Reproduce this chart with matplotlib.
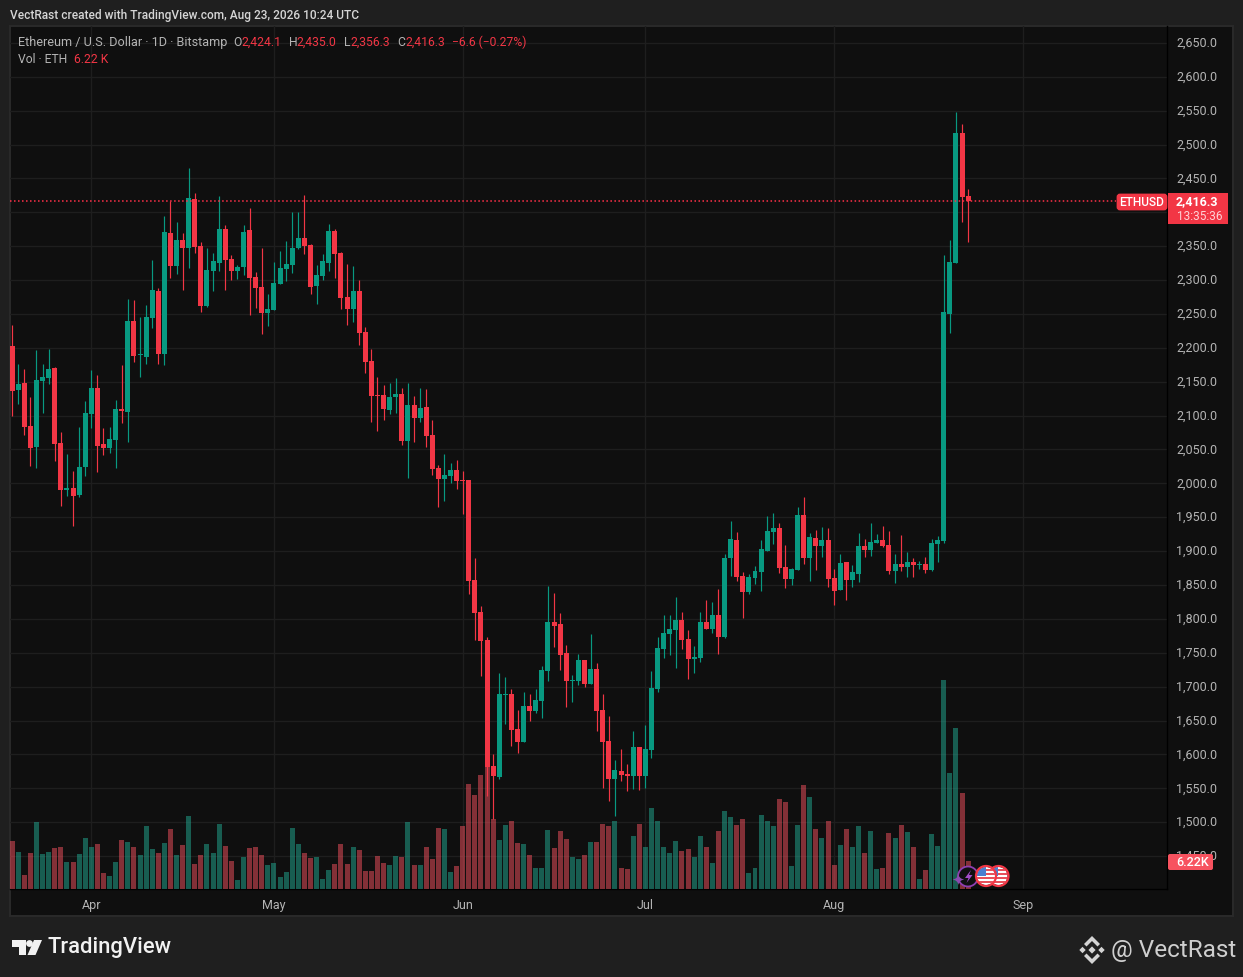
#!/usr/bin/env python
# coding: utf-8

import pandas as pd
import matplotlib
matplotlib.use('Agg')
import matplotlib.pyplot as plt
import matplotlib.dates as mdates
from matplotlib.patches import Circle, Polygon, Rectangle, FancyBboxPatch
from matplotlib.ticker import FuncFormatter
from matplotlib.transforms import ScaledTranslation

plt.rcParams['font.family'] = ['Roboto', 'DejaVu Sans']

START_DATE = '2026-03-19'

opens = [
    2203.4, 2137.8, 2147.6, 2084.4, 2054.0, 2150.5, 2154.9, 2169.6, 2059.4, 1990.3, 1993.2, 1982.9, 2024.0,
    2102.0, 2140.2, 2057.9, 2052.0, 2063.8, 2109.4, 2104.9, 2240.2, 2189.0, 2186.7, 2244.6, 2284.3, 2190.3,
    2369.5, 2321.0, 2359.3, 2347.5, 2419.5, 2350.4, 2262.2, 2313.7, 2325.4, 2375.4, 2331.3, 2313.7, 2319.3,
    2373.9, 2304.6, 2289.8, 2251.4, 2255.8, 2294.2, 2316.4, 2322.3, 2347.4, 2362.1, 2351.8, 2291.3, 2306.0,
    2325.2, 2372.4, 2340.0, 2275.0, 2257.3, 2283.9, 2223.4, 2180.6, 2130.4, 2130.4, 2108.2, 2127.4, 2131.9,
    2062.5, 2115.6, 2096.4, 2112.7, 2071.3, 2022.6, 2006.4, 2010.8, 2019.7, 2004.9, 2004.9, 1857.4, 1810.2,
    1768.9, 1583.0, 1566.7, 1687.7, 1689.2, 1637.5, 1618.4, 1671.5, 1664.1, 1678.9, 1723.1, 1795.4, 1792.5,
    1749.7, 1708.4, 1708.4, 1739.3, 1703.9, 1726.1, 1665.6, 1619.9, 1563.8, 1575.6, 1571.1, 1568.2, 1611.0,
    1568.2, 1606.6, 1696.6, 1755.7, 1777.9, 1783.8, 1798.5, 1770.5, 1741.0, 1742.5, 1795.6, 1785.2, 1805.9,
    1773.4, 1890.0, 1916.6, 1863.4, 1839.8, 1860.5, 1869.3, 1900.3, 1928.4, 1934.3, 1876.7, 1859.0, 1872.3,
    1953.4, 1890.0, 1919.5, 1907.7, 1916.6, 1860.5, 1842.8, 1884.1, 1857.5, 1866.4, 1907.7, 1901.8, 1912.1,
    1916.6, 1909.2, 1870.8, 1881.1, 1876.7, 1884.1, 1879.7, 1881.1, 1872.3, 1910.7, 1915.0, 2250.0, 2325.0,
    2516.7, 2424.1,
]
highs = [
    2234.3, 2176.5, 2168.2, 2127.0, 2196.1, 2175.5, 2199.0, 2171.0, 2075.5, 2043.2, 2018.2, 2082.9, 2121.1,
    2166.7, 2159.3, 2081.4, 2082.9, 2122.6, 2174.0, 2272.5, 2271.0, 2246.1, 2263.7, 2329.9, 2288.7, 2394.5,
    2416.6, 2385.7, 2369.5, 2465.1, 2428.3, 2356.3, 2347.5, 2340.1, 2423.9, 2381.3, 2337.2, 2322.5, 2381.3,
    2406.4, 2311.9, 2347.4, 2279.5, 2326.7, 2342.9, 2357.7, 2400.5, 2400.5, 2425.6, 2353.3, 2322.3, 2338.5,
    2382.8, 2375.4, 2341.5, 2323.7, 2320.8, 2300.1, 2230.8, 2198.3, 2157.0, 2145.1, 2148.1, 2155.5, 2140.7,
    2148.1, 2128.9, 2140.7, 2139.2, 2093.5, 2027.1, 2043.3, 2030.0, 2034.4, 2018.2, 2004.9, 1889.8, 1819.0,
    1773.3, 1600.7, 1720.2, 1714.3, 1696.6, 1665.6, 1692.1, 1689.2, 1696.6, 1730.5, 1848.5, 1838.2, 1808.7,
    1761.5, 1717.2, 1748.2, 1739.3, 1777.7, 1734.9, 1689.2, 1656.7, 1591.8, 1608.0, 1585.9, 1634.6, 1611.0,
    1643.5, 1723.1, 1773.3, 1805.9, 1805.9, 1832.5, 1810.3, 1783.8, 1760.2, 1810.3, 1828.0, 1825.1, 1844.3,
    1895.9, 1944.6, 1928.4, 1869.3, 1866.4, 1878.2, 1916.6, 1952.0, 1956.4, 1941.6, 1909.2, 1875.2, 1965.2,
    1980.0, 1926.9, 1931.3, 1935.7, 1934.3, 1873.8, 1895.9, 1884.1, 1879.7, 1926.9, 1918.0, 1941.6, 1925.4,
    1937.2, 1929.8, 1895.9, 1923.9, 1898.9, 1890.0, 1885.6, 1891.5, 1918.0, 1922.5, 2337.0, 2359.0, 2547.5,
    2529.9, 2435.0,
]
lows = [
    2099.5, 2117.2, 2071.6, 2026.0, 2023.1, 2103.5, 2146.1, 2032.9, 1966.8, 1981.5, 1937.4, 1980.0, 2010.9,
    2081.4, 2016.7, 2041.7, 2044.7, 2022.6, 2088.8, 2060.8, 2179.3, 2157.4, 2176.4, 2229.9, 2176.4, 2175.0,
    2303.4, 2309.3, 2285.8, 2318.1, 2340.1, 2253.4, 2260.8, 2284.3, 2313.7, 2285.8, 2300.5, 2301.9, 2307.5,
    2248.5, 2258.8, 2220.4, 2232.2, 2255.8, 2294.2, 2298.6, 2310.5, 2345.9, 2338.5, 2279.5, 2264.7, 2300.1,
    2313.4, 2303.1, 2257.3, 2233.7, 2238.1, 2204.2, 2162.9, 2090.5, 2077.3, 2093.5, 2102.3, 2103.8, 2056.6,
    2007.9, 2061.0, 2090.5, 2053.6, 2012.3, 1965.1, 1973.9, 2000.5, 1991.6, 1954.7, 1836.7, 1768.9, 1715.7,
    1538.7, 1504.8, 1563.8, 1644.9, 1612.5, 1602.1, 1618.4, 1649.4, 1661.2, 1653.8, 1708.4, 1758.5, 1724.6,
    1670.0, 1677.4, 1702.5, 1699.5, 1703.9, 1634.6, 1550.5, 1531.3, 1509.2, 1560.8, 1546.0, 1549.0, 1547.5,
    1550.5, 1594.8, 1692.1, 1742.5, 1746.9, 1727.7, 1755.7, 1711.5, 1720.3, 1736.6, 1785.2, 1779.3, 1748.4,
    1771.9, 1863.4, 1856.1, 1801.5, 1836.9, 1851.6, 1841.3, 1900.3, 1910.7, 1867.9, 1845.7, 1850.2, 1872.3,
    1881.1, 1856.1, 1872.3, 1891.5, 1847.2, 1820.7, 1842.8, 1828.0, 1847.2, 1854.6, 1891.5, 1893.0, 1912.1,
    1906.2, 1866.4, 1853.1, 1870.8, 1862.0, 1862.0, 1873.8, 1867.9, 1870.8, 1884.1, 1912.0, 2222.0, 2325.0,
    2385.8, 2356.3,
]
closes = [
    2136.3, 2146.0, 2083.4, 2052.5, 2152.0, 2156.4, 2168.2, 2057.9, 1990.3, 1993.2, 1981.5, 2024.0, 2103.5,
    2140.2, 2055.0, 2052.0, 2065.2, 2109.4, 2106.4, 2240.2, 2188.2, 2190.5, 2246.1, 2285.8, 2190.3, 2371.0,
    2321.0, 2359.3, 2347.5, 2421.0, 2349.0, 2262.2, 2315.2, 2328.4, 2375.4, 2329.9, 2313.7, 2319.6, 2371.0,
    2303.1, 2288.3, 2251.4, 2257.3, 2295.7, 2317.8, 2323.7, 2347.4, 2362.1, 2350.3, 2289.8, 2307.5, 2328.2,
    2372.4, 2338.5, 2273.6, 2257.3, 2283.9, 2221.9, 2179.1, 2128.9, 2128.9, 2109.7, 2127.4, 2131.9, 2062.5,
    2115.6, 2096.4, 2111.2, 2069.9, 2021.2, 2006.4, 2012.3, 2019.7, 2003.4, 2003.4, 1855.9, 1808.7, 1767.4,
    1581.5, 1568.2, 1689.2, 1689.2, 1636.1, 1618.4, 1671.5, 1664.1, 1680.3, 1724.6, 1795.4, 1789.5, 1746.7,
    1708.4, 1709.8, 1739.3, 1703.9, 1726.1, 1664.1, 1618.4, 1563.8, 1577.0, 1569.7, 1568.2, 1611.0, 1568.2,
    1608.0, 1698.0, 1757.0, 1779.3, 1785.2, 1798.5, 1769.0, 1741.0, 1743.9, 1795.6, 1785.2, 1805.9, 1773.4,
    1890.0, 1918.0, 1862.0, 1839.8, 1862.0, 1870.8, 1903.3, 1929.8, 1934.3, 1875.2, 1859.0, 1873.8, 1953.4,
    1890.0, 1921.0, 1907.7, 1916.6, 1859.0, 1841.3, 1882.6, 1857.5, 1869.3, 1907.7, 1901.8, 1913.6, 1916.6,
    1907.7, 1870.8, 1881.1, 1876.7, 1884.1, 1879.7, 1881.1, 1872.3, 1912.1, 1916.6, 2253.0, 2327.0, 2516.7,
    2423.0, 2416.3,
]
# volume in thousands of ETH
volumes = [
    10.67, 8.22, 3.11, 8.00, 14.89, 7.78, 8.22, 9.11, 9.33, 6.00, 6.00, 7.78, 11.33,
    9.33, 10.00, 3.56, 2.89, 6.00, 10.89, 10.44, 9.33, 7.56, 14.00, 8.89, 8.00, 10.22,
    13.33, 7.56, 9.78, 16.22, 5.56, 7.56, 10.00, 8.00, 14.44, 9.56, 6.22, 2.00, 7.11,
    9.11, 9.33, 7.56, 5.33, 5.78, 2.67, 3.78, 13.56, 10.00, 8.00, 6.89, 7.11, 2.22,
    4.22, 5.56, 10.00, 5.56, 9.33, 8.67, 4.00, 4.00, 7.33, 5.78, 5.33, 7.33, 7.11,
    14.89, 5.33, 5.33, 9.33, 6.67, 13.56, 13.33, 3.78, 5.11, 14.00, 23.33, 20.89, 25.33,
    27.11, 15.56, 10.89, 14.22, 15.11, 10.22, 10.00, 7.56, 4.67, 4.67, 13.11, 9.11, 12.89,
    11.11, 7.11, 6.67, 7.56, 10.44, 10.44, 14.44, 14.00, 15.11, 4.67, 4.44, 11.78, 14.44,
    9.33, 18.00, 15.11, 9.33, 8.00, 10.67, 8.44, 8.89, 7.11, 11.78, 9.33, 5.78, 12.89,
    17.33, 16.00, 14.22, 15.56, 3.56, 4.67, 16.44, 15.11, 14.00, 20.00, 19.33, 5.11, 14.22,
    23.11, 20.44, 13.33, 11.33, 15.11, 5.33, 9.78, 13.33, 9.33, 14.00, 8.00, 12.89, 4.44,
    4.67, 12.44, 11.33, 14.22, 12.67, 9.33, 2.22, 4.22, 12.22, 9.56, 46.44, 25.78, 35.78,
    21.33, 6.22,
]
price_ticks = [1450 + 50 * k for k in range(25)]
last_price = 2416.3

PANEL = '#0f0f0f'
RED = '#F23645'
GREEN = '#089981'
VOL_RED = '#F7525F'
VOL_GREEN = '#22AB94'
GRID = '#1e1e1e'
TEXT = '#b4b4b4'
W, H = 1243, 978
# plot rectangle in pixels: left, right, top, bottom
L_PX, R_PX, T_PX, B_PX = 10, 1167, 27, 890


def pixel_axes(zorder):
    a = fig.add_axes([0, 0, 1, 1], zorder=zorder)
    a.set_xlim(0, W)
    a.set_ylim(H, 0)
    a.axis('off')
    return a


def draw_flag(a, cx, cy, r=9):
    disc = Circle((cx, cy), r, fc='white', ec='none')
    a.add_patch(disc)
    for k in (-6, -2, 2, 6):
        s = Rectangle((cx - r, cy + k - 1), 2 * r, 2, fc='#e8505b', ec='none')
        a.add_patch(s)
        s.set_clip_path(disc)
    blue = Rectangle((cx - r, cy - r), r, r, fc='#4a7fd0', ec='none')
    a.add_patch(blue)
    blue.set_clip_path(disc)
    a.add_patch(Circle((cx, cy), r + 1, fc='none', ec=RED, lw=1.6))


def price_label(v, _):
    # the 2,400 label sits under the last price tag
    return '' if v == 2400 else '{:,.1f}'.format(v)


fig = plt.figure(figsize=(W / 100, H / 100), dpi=100, facecolor='#1f1f1f')

bg = pixel_axes(0)
bg.add_patch(Rectangle((10, 27), 1223, 890, fc=PANEL, ec='#2a2a2a', lw=1.4))

dates = pd.date_range(START_DATE, periods=len(closes), freq='D')
x = mdates.date2num(dates)
apr1 = mdates.date2num(pd.Timestamp('2026-04-01'))
px_per_day = 6.089
xlim = (apr1 + (L_PX - 91.3) / px_per_day, apr1 + (R_PX - 91.3) / px_per_day)
ylim = (2400 - (B_PX - 213.3) / 0.6777, 2400 + (213.3 - T_PX) / 0.6777)
rect = [L_PX / W, 1 - B_PX / H, (R_PX - L_PX) / W, (B_PX - T_PX) / H]

up = [c >= o for o, c in zip(opens, closes)]

# axes with grid and tick labels at the bottom
ax = fig.add_axes(rect, zorder=1, facecolor='none')
ax.set_xlim(xlim)
ax.set_ylim(ylim)
ax.xaxis.set_major_locator(mdates.MonthLocator())
ax.xaxis.set_major_formatter(mdates.DateFormatter('%b'))
ax.yaxis.tick_right()
ax.set_yticks(price_ticks)
ax.yaxis.set_major_formatter(FuncFormatter(price_label))
ax.grid(True, color=GRID, lw=1.0)
ax.set_axisbelow(True)
ax.tick_params(axis='both', length=0, labelcolor=TEXT, labelsize=9)
ax.tick_params(axis='y', pad=6.5)
ax.tick_params(axis='x', pad=6.5)
for side in ('top', 'left'):
    ax.spines[side].set_visible(False)
for side in ('right', 'bottom'):
    ax.spines[side].set_color('#000000')
    ax.spines[side].set_linewidth(1.0)
for lab in ax.get_yticklabels():
    lab.set_transform(lab.get_transform() + ScaledTranslation(0, 2 / 100, fig.dpi_scale_trans))

# volume, half transparent over the grid
ax_vol = fig.add_axes(rect, zorder=2, facecolor='none')
ax_vol.set_xlim(xlim)
ax_vol.set_ylim(0, (B_PX - T_PX) * 0.2222)
ax_vol.axis('off')
ax_vol.bar(x, volumes, width=0.82, color=[VOL_GREEN if u else VOL_RED for u in up], alpha=0.5, linewidth=0)

# candles
ax_c = fig.add_axes(rect, zorder=3, facecolor='none')
ax_c.set_xlim(xlim)
ax_c.set_ylim(ylim)
ax_c.axis('off')
colors = [GREEN if u else RED for u in up]
ax_c.vlines(x, lows, highs, colors=colors, lw=0.85)
bottoms = [min(o, c) for o, c in zip(opens, closes)]
heights = [max(abs(c - o), 1.5) for o, c in zip(opens, closes)]
ax_c.bar(x, heights, bottom=bottoms, width=0.82, color=colors, linewidth=0)
ax_c.plot([xlim[0], apr1 + (1116 - 91.3) / px_per_day], [last_price, last_price],
          color='#ff3048', lw=1.1, dashes=(1, 1.62), dash_capstyle='butt')

# tags, legend, footer
top = pixel_axes(5)
top.text(10, 15, 'VectRast created with TradingView.com, Aug 23, 2026 10:24 UTC',
         color='#d6d6d6', fontsize=8.55, weight='medium', va='center')

legend_kw = dict(fontsize=8.7, va='center')
top.text(18, 42.5, 'Ethereum / U.S. Dollar · 1D · Bitstamp', color=TEXT, fontsize=9.05, va='center')
for lx, label, vx, value in [(233, 'O', 241.7, '2,424.1'), (288.6, 'H', 296.8, '2,435.0'),
                             (344, 'L', 350.2, '2,356.3'), (397.7, 'C', 405.6, '2,416.3')]:
    top.text(lx, 42.5, label, color=TEXT, **legend_kw)
    top.text(vx, 42.5, value, color=RED, **legend_kw)
top.text(452.5, 42.5, '−6.6 (−0.27%)', color=RED, **legend_kw)
top.text(18, 59.5, 'Vol · ETH', color=TEXT, **legend_kw)
top.text(74.4, 59.5, '6.22 K', color=RED, **legend_kw)

top.add_patch(FancyBboxPatch((1118, 196), 48, 14, boxstyle='round,pad=0,rounding_size=2',
                             fc=RED, ec=RED, lw=2))
top.text(1142, 203, 'ETHUSD', color='white', fontsize=8.6, weight='medium', ha='center', va='center')
top.add_patch(Rectangle((1168, 194), 60, 31, fc=RED, ec='none'))
top.text(1176, 202, '2,416.3', color='white', fontsize=9, weight='bold', va='center')
top.text(1177, 216, '13:35:36', color='#ffd2d6', fontsize=8.5, va='center')
top.add_patch(FancyBboxPatch((1168, 855), 45, 16, boxstyle='round,pad=0,rounding_size=2',
                             fc=VOL_RED, ec='none'))
top.text(1176, 863, '6.22K', color='white', fontsize=9, weight='medium', va='center')

# event markers
top.add_patch(Circle((968, 877.5), 10, fc=PANEL, ec='#8e3fb0', lw=1.3))
top.text(957.5, 880.5, '✦', color='#8a4cb0', fontsize=11, ha='center', va='center', family='DejaVu Sans')
top.add_patch(Polygon([(971, 871), (965, 879), (968.5, 879), (966.5, 884), (972.5, 876), (969, 876)], fc='#a24cc8'))
draw_flag(top, 998.5, 877)
draw_flag(top, 986, 877)

# TradingView mark and name
mark = '#f2f2f2'
top.add_patch(Polygon([(12, 941), (26, 941), (26, 956), (19, 956), (19, 947.5), (12, 947.5)], fc=mark))
top.add_patch(Circle((29.5, 944.5), 3.4, fc=mark))
top.add_patch(Polygon([(34, 941), (42, 941), (35.5, 956), (27.5, 956)], fc=mark))
top.text(48, 948, 'TradingView', color='#f2f2f2', fontsize=15.8, weight='medium', va='center')

# Binance style mark and handle
logo = '#d4d4d4'
cx, cy = 1092, 951
for dx, dy, r in [(0, 0, 3.6), (-9.5, 0, 3.2), (9.5, 0, 3.2)]:
    top.add_patch(Polygon([(cx + dx - r, cy + dy), (cx + dx, cy + dy - r), (cx + dx + r, cy + dy), (cx + dx, cy + dy + r)], fc=logo))
for s in (-1, 1):
    top.add_patch(Polygon([(cx - 8, cy + s * 6), (cx, cy + s * 14), (cx + 8, cy + s * 6), (cx + 5.5, cy + s * 3.5),
                           (cx, cy + s * 9), (cx - 5.5, cy + s * 3.5)], fc=logo))
top.text(1236, 951, '@ VectRast', color='#cfcfcf', fontsize=17.5, ha='right', va='center')

fig.savefig('out.png', dpi=100, facecolor=fig.get_facecolor())
